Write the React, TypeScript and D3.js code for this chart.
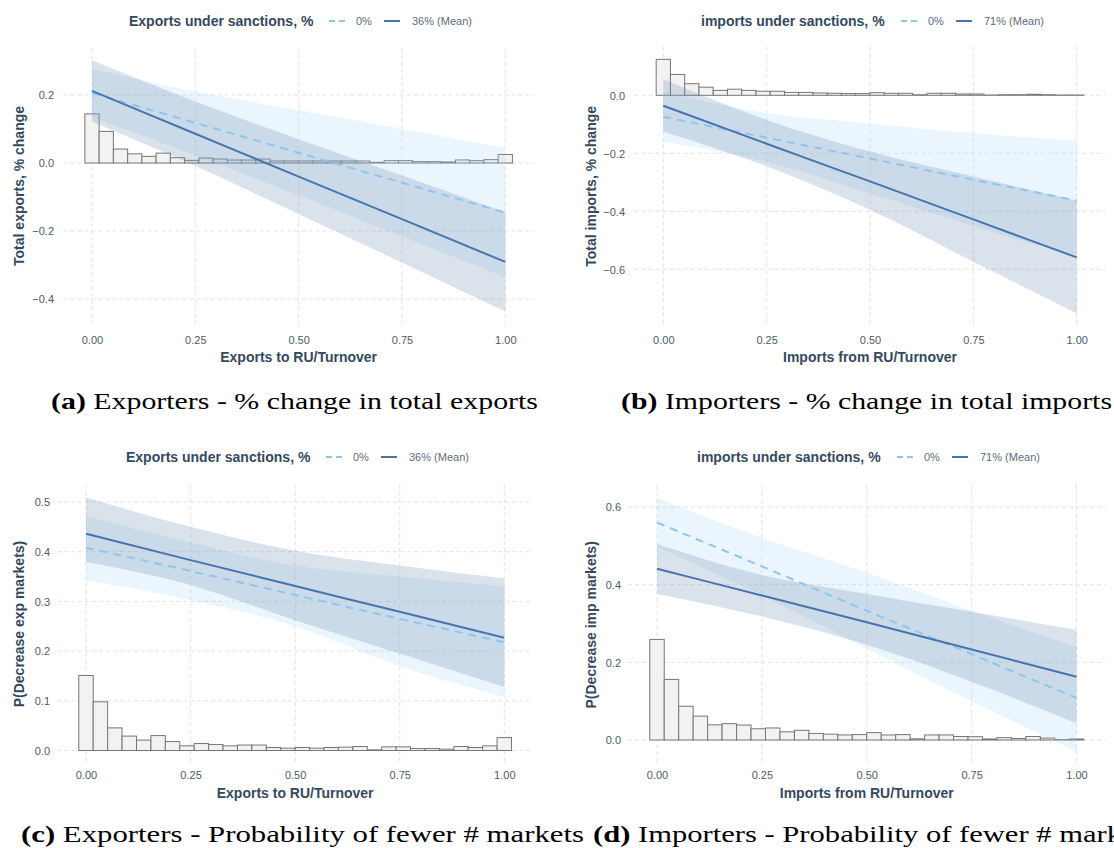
import { useEffect, useRef } from "react";
import * as d3 from "d3";

// ---------------------------------------------------------------------------
// Data
// ---------------------------------------------------------------------------

const X_BREAKS = [0, 0.25, 0.5, 0.75, 1];
// x positions where the fitted lines / ribbons were sampled
const CURVE_X = [0, 0.25, 0.5, 0.75, 1];
const N_BINS = 30;

// (a) Exporters - total exports
const A_Y_BREAKS = [-0.4, -0.2, 0, 0.2];
const A_HIST = [
  0.1445, 0.093, 0.041, 0.027, 0.0195, 0.029, 0.0156, 0.0078, 0.0146, 0.0117,
  0.0088, 0.0088, 0.0117, 0.006, 0.006, 0.006, 0.006, 0.006, 0.006, 0.006,
  0.002, 0.007, 0.007, 0.004, 0.004, 0.003, 0.009, 0.007, 0.01, 0.025,
];
const A_FIT_0 = [0.206, 0.118, 0.03, -0.058, -0.146];
const A_LO_0 = [0.135, 0.022, -0.095, -0.216, -0.336];
const A_HI_0 = [0.277, 0.21, 0.155, 0.1, 0.044];
const A_FIT_M = [0.212, 0.086, -0.04, -0.165, -0.291];
const A_LO_M = [0.122, -0.009, -0.15, -0.293, -0.437];
const A_HI_M = [0.302, 0.181, 0.07, -0.037, -0.145];

// (b) Importers - total imports
const B_Y_BREAKS = [-0.6, -0.4, -0.2, 0];
const B_HIST = [
  0.124, 0.072, 0.04, 0.028, 0.017, 0.021, 0.017, 0.014, 0.014, 0.01, 0.01,
  0.008, 0.007, 0.006, 0.006, 0.009, 0.007, 0.007, 0.002, 0.007, 0.007, 0.0046,
  0.0046, 0.001, 0.002, 0.002, 0.0035, 0.002, 0.001, 0.001,
];
const B_FIT_0 = [-0.074, -0.146, -0.218, -0.291, -0.363];
const B_LO_0 = [-0.16, -0.23, -0.339, -0.451, -0.555];
const B_HI_0 = [0.012, -0.062, -0.097, -0.131, -0.157];
const B_FIT_M = [-0.036, -0.167, -0.297, -0.428, -0.559];
const B_LO_M = [-0.125, -0.245, -0.395, -0.574, -0.752];
const B_HI_M = [0.055, -0.085, -0.194, -0.28, -0.363];

// (c) Exporters - P(fewer markets)
const C_Y_BREAKS = [0, 0.1, 0.2, 0.3, 0.4, 0.5];
const C_HIST = [
  0.151, 0.098, 0.0455, 0.029, 0.021, 0.03, 0.018, 0.0094, 0.014, 0.012, 0.0094,
  0.011, 0.011, 0.006, 0.0047, 0.006, 0.0047, 0.006, 0.0067, 0.008, 0.0013,
  0.0074, 0.0074, 0.004, 0.004, 0.0027, 0.008, 0.006, 0.0094, 0.026,
];
const C_FIT_0 = [0.408, 0.361, 0.313, 0.265, 0.218];
const C_LO_0 = [0.342, 0.303, 0.25, 0.17, 0.108];
const C_HI_0 = [0.472, 0.419, 0.372, 0.35, 0.33];
const C_FIT_M = [0.436, 0.383, 0.331, 0.279, 0.227];
const C_LO_M = [0.38, 0.333, 0.262, 0.195, 0.128];
const C_HI_M = [0.509, 0.45, 0.402, 0.372, 0.346];

// (d) Importers - P(fewer markets)
const D_Y_BREAKS = [0, 0.2, 0.4, 0.6];
const D_HIST = [
  0.259, 0.156, 0.087, 0.0615, 0.039, 0.042, 0.0385, 0.029, 0.031, 0.021, 0.025,
  0.017, 0.015, 0.013, 0.014, 0.019, 0.013, 0.014, 0.003, 0.013, 0.013, 0.009,
  0.0085, 0.0026, 0.006, 0.004, 0.009, 0.005, 0.001, 0.0025,
];
const D_FIT_0 = [0.56, 0.447, 0.333, 0.221, 0.108];
const D_LO_0 = [0.497, 0.372, 0.235, 0.1, -0.03];
const D_HI_0 = [0.623, 0.521, 0.431, 0.333, 0.239];
const D_FIT_M = [0.441, 0.372, 0.303, 0.233, 0.163];
const D_LO_M = [0.376, 0.318, 0.245, 0.15, 0.043];
const D_HI_M = [0.504, 0.425, 0.376, 0.33, 0.284];

// ---------------------------------------------------------------------------
// Styling
// ---------------------------------------------------------------------------

const SANS = "'Liberation Sans', Arial, sans-serif";
const SERIF = "'Liberation Serif', 'Times New Roman', serif";
const TITLE_COL = "#34495e";
const TICK_COL = "#4d5b6b";
const LEGEND_LAB_COL = "#5d6d7e";
const GRID_COL = "#e2e2e2";
const LINE_ZERO = "#8ec5ef";
const LINE_MEAN = "#4874ad";
const RIB_ZERO = "#9fd0f8";
const RIB_MEAN = "#6d8bb0";

type Panel = {
  legendTitle: string;
  meanLabel: string;
  legendX: number;
  legendY: number;
  xTitle: string;
  yTitle: string;
  xPx: [number, number]; // pixel of x = 0 and x = 1
  yRef: [number, number];
  yPx: [number, number];
  yExtent: [number, number];
  yBreaks: number[];
  hist: number[];
  fit0: number[];
  lo0: number[];
  hi0: number[];
  fitM: number[];
  loM: number[];
  hiM: number[];
  xTickY: number;
  xTitleY: number;
  yTickRight: number;
  yTitleX: number;
  capBold: string;
  capText: string;
  capX: number;
  capY: number;
  capLen: number;
};

const PANELS: Panel[] = [
  {
    legendTitle: "Exports under sanctions, %",
    meanLabel: "36% (Mean)",
    legendX: 129,
    legendY: 21,
    xTitle: "Exports to RU/Turnover",
    yTitle: "Total exports, % change",
    xPx: [92, 505.3],
    yRef: [0, 0.2],
    yPx: [163, 95],
    yExtent: [-0.474, 0.339],
    yBreaks: A_Y_BREAKS,
    hist: A_HIST,
    fit0: A_FIT_0,
    lo0: A_LO_0,
    hi0: A_HI_0,
    fitM: A_FIT_M,
    loM: A_LO_M,
    hiM: A_HI_M,
    xTickY: 340,
    xTitleY: 357,
    yTickRight: 54,
    yTitleX: 19,
    capBold: "(a)",
    capText: " Exporters - % change in total exports",
    capX: 51,
    capY: 409,
    capLen: 487,
  },
  {
    legendTitle: "imports under sanctions, %",
    meanLabel: "71% (Mean)",
    legendX: 701,
    legendY: 21,
    xTitle: "Imports from RU/Turnover",
    yTitle: "Total imports, % change",
    xPx: [663.3, 1076.7],
    yRef: [0, -0.2],
    yPx: [95.3, 153.3],
    yExtent: [-0.796, 0.168],
    yBreaks: B_Y_BREAKS,
    hist: B_HIST,
    fit0: B_FIT_0,
    lo0: B_LO_0,
    hi0: B_HI_0,
    fitM: B_FIT_M,
    loM: B_LO_M,
    hiM: B_HI_M,
    xTickY: 340,
    xTitleY: 357,
    yTickRight: 625,
    yTitleX: 591,
    capBold: "(b)",
    capText: " Importers - % change in total imports",
    capX: 621,
    capY: 409,
    capLen: 491,
  },
  {
    legendTitle: "Exports under sanctions, %",
    meanLabel: "36% (Mean)",
    legendX: 126,
    legendY: 457,
    xTitle: "Exports to RU/Turnover",
    yTitle: "P(Decrease exp markets)",
    xPx: [86, 504.3],
    yRef: [0, 0.5],
    yPx: [750.5, 502],
    yExtent: [-0.0255, 0.5345],
    yBreaks: C_Y_BREAKS,
    hist: C_HIST,
    fit0: C_FIT_0,
    lo0: C_LO_0,
    hi0: C_HI_0,
    fitM: C_FIT_M,
    loM: C_LO_M,
    hiM: C_HI_M,
    xTickY: 775,
    xTitleY: 793,
    yTickRight: 50,
    yTitleX: 19,
    capBold: "(c)",
    capText: " Exporters - Probability of fewer # markets",
    capX: 21,
    capY: 842,
    capLen: 563,
  },
  {
    legendTitle: "imports under sanctions, %",
    meanLabel: "71% (Mean)",
    legendX: 697,
    legendY: 457,
    xTitle: "Imports from RU/Turnover",
    yTitle: "P(Decrease imp markets)",
    xPx: [657, 1076.5],
    yRef: [0, 0.6],
    yPx: [740, 507],
    yExtent: [-0.063, 0.656],
    yBreaks: D_Y_BREAKS,
    hist: D_HIST,
    fit0: D_FIT_0,
    lo0: D_LO_0,
    hi0: D_HI_0,
    fitM: D_FIT_M,
    loM: D_LO_M,
    hiM: D_HI_M,
    xTickY: 775,
    xTitleY: 793,
    yTickRight: 621,
    yTitleX: 591,
    capBold: "(d)",
    capText: " Importers - Probability of fewer # markets",
    capX: 593,
    capY: 842,
    capLen: 563,
  },
];

// ---------------------------------------------------------------------------
// Drawing
// ---------------------------------------------------------------------------

function drawPanel(svg: d3.Selection<SVGSVGElement, unknown, null, undefined>, p: Panel) {
  const x = d3.scaleLinear().domain([0, 1]).range(p.xPx);
  const y = d3.scaleLinear().domain(p.yRef).range(p.yPx);
  const xl = x(-0.069);
  const xr = x(1.069);
  const yb = y(p.yExtent[0]);
  const yt = y(p.yExtent[1]);

  const g = svg.append("g");

  // ---- Gridlines ----
  g.append("g")
    .selectAll("line")
    .data(p.yBreaks)
    .join("line")
    .attr("x1", xl)
    .attr("x2", xr)
    .attr("y1", (d) => y(d))
    .attr("y2", (d) => y(d))
    .attr("stroke", GRID_COL)
    .attr("stroke-width", 1)
    .attr("stroke-dasharray", "4,3");

  g.append("g")
    .selectAll("line")
    .data(X_BREAKS)
    .join("line")
    .attr("x1", (d) => x(d))
    .attr("x2", (d) => x(d))
    .attr("y1", yt)
    .attr("y2", yb)
    .attr("stroke", GRID_COL)
    .attr("stroke-width", 1)
    .attr("stroke-dasharray", "4,3");

  // ---- Histogram (30 bins over [0, 1], centred on the ends) ----
  const bw = 1 / (N_BINS - 1);
  g.append("g")
    .selectAll("rect")
    .data(p.hist)
    .join("rect")
    .attr("x", (_d, i) => x((i - 0.5) * bw))
    .attr("width", x(bw) - x(0))
    .attr("y", (d) => Math.min(y(d), y(0)))
    .attr("height", (d) => Math.abs(y(0) - y(d)))
    .attr("fill", "#f2f2f2")
    .attr("stroke", "#777")
    .attr("stroke-width", 1);

  // ---- Ribbons ----
  type Band = { x: number; lo: number; hi: number };
  const band = (lo: number[], hi: number[]): Band[] =>
    CURVE_X.map((cx, i) => ({ x: cx, lo: lo[i], hi: hi[i] }));
  const area = d3
    .area<Band>()
    .x((d) => x(d.x))
    .y0((d) => y(d.lo))
    .y1((d) => y(d.hi))
    .curve(d3.curveMonotoneX);

  g.append("path")
    .attr("d", area(band(p.lo0, p.hi0)))
    .attr("fill", RIB_ZERO)
    .attr("fill-opacity", 0.22);
  g.append("path")
    .attr("d", area(band(p.loM, p.hiM)))
    .attr("fill", RIB_MEAN)
    .attr("fill-opacity", 0.25);

  // ---- Fitted lines ----
  const line = d3
    .line<number>()
    .x((_d, i) => x(CURVE_X[i]))
    .y((d) => y(d))
    .curve(d3.curveMonotoneX);

  g.append("path")
    .attr("d", line(p.fit0))
    .attr("fill", "none")
    .attr("stroke", LINE_ZERO)
    .attr("stroke-width", 2)
    .attr("stroke-dasharray", "8,6");
  g.append("path")
    .attr("d", line(p.fitM))
    .attr("fill", "none")
    .attr("stroke", LINE_MEAN)
    .attr("stroke-width", 2);

  // ---- Axes ----
  g.append("g")
    .attr("transform", `translate(0,${p.xTickY})`)
    .call(
      d3
        .axisBottom(x)
        .tickValues(X_BREAKS)
        .tickFormat(d3.format(".2f") as any)
        .tickSize(0)
        .tickPadding(0)
    )
    .call((sel) => sel.select(".domain").remove())
    .call((sel) =>
      sel
        .selectAll("text")
        .attr("dy", "0.35em")
        .attr("fill", TICK_COL)
        .attr("font-size", 11)
        .attr("font-family", SANS)
    );

  g.append("g")
    .attr("transform", `translate(${p.yTickRight},0)`)
    .call(
      d3
        .axisLeft(y)
        .tickValues(p.yBreaks)
        .tickFormat(d3.format(".1f") as any)
        .tickSize(0)
        .tickPadding(0)
    )
    .call((sel) => sel.select(".domain").remove())
    .call((sel) =>
      sel
        .selectAll("text")
        .attr("dy", "0.35em")
        .attr("fill", TICK_COL)
        .attr("font-size", 11)
        .attr("font-family", SANS)
    );

  // axis titles
  g.append("text")
    .attr("x", (xl + xr) / 2)
    .attr("y", p.xTitleY)
    .attr("dy", "0.35em")
    .attr("text-anchor", "middle")
    .attr("fill", TITLE_COL)
    .attr("font-size", 14)
    .attr("font-weight", "bold")
    .attr("font-family", SANS)
    .text(p.xTitle);

  g.append("text")
    .attr("transform", `translate(${p.yTitleX},${(yt + yb) / 2}) rotate(-90)`)
    .attr("dy", "0.35em")
    .attr("text-anchor", "middle")
    .attr("fill", TITLE_COL)
    .attr("font-size", 14)
    .attr("font-weight", "bold")
    .attr("font-family", SANS)
    .text(p.yTitle);

  // ---- Legend ----
  const lg = g.append("g").attr("transform", `translate(${p.legendX},${p.legendY})`);
  lg.append("text")
    .attr("dy", "0.35em")
    .attr("fill", TITLE_COL)
    .attr("font-size", 14)
    .attr("font-weight", "bold")
    .attr("font-family", SANS)
    .text(p.legendTitle);

  lg.append("line")
    .attr("x1", 200)
    .attr("x2", 216)
    .attr("stroke", LINE_ZERO)
    .attr("stroke-width", 2)
    .attr("stroke-dasharray", "6,4");
  lg.append("text")
    .attr("x", 227)
    .attr("dy", "0.35em")
    .attr("fill", LEGEND_LAB_COL)
    .attr("font-size", 11)
    .attr("font-family", SANS)
    .text("0%");
  lg.append("line")
    .attr("x1", 255)
    .attr("x2", 271)
    .attr("stroke", LINE_MEAN)
    .attr("stroke-width", 2);
  lg.append("text")
    .attr("x", 283)
    .attr("dy", "0.35em")
    .attr("fill", LEGEND_LAB_COL)
    .attr("font-size", 11)
    .attr("font-family", SANS)
    .text(p.meanLabel);

  // ---- Sub-figure caption ----
  const cap = svg
    .append("text")
    .attr("x", p.capX)
    .attr("y", p.capY)
    .attr("fill", "#000")
    .attr("font-size", 23.5)
    .attr("font-family", SERIF)
    .attr("textLength", p.capLen)
    .attr("lengthAdjust", "spacingAndGlyphs")
    .style("white-space", "pre");
  cap.append("tspan").attr("font-weight", "bold").text(p.capBold);
  cap.append("tspan").text(p.capText);
}

export default function App() {
  const svgRef = useRef<SVGSVGElement>(null);

  useEffect(() => {
    const svg = d3.select(svgRef.current!);
    svg.selectAll("*").remove();
    PANELS.forEach((p) => drawPanel(svg as any, p));
  }, []);

  return (
    <svg
      ref={svgRef}
      width={1114}
      height={848}
      style={{ position: "absolute", left: 0, top: 0, background: "#fff" }}
    />
  );
}
